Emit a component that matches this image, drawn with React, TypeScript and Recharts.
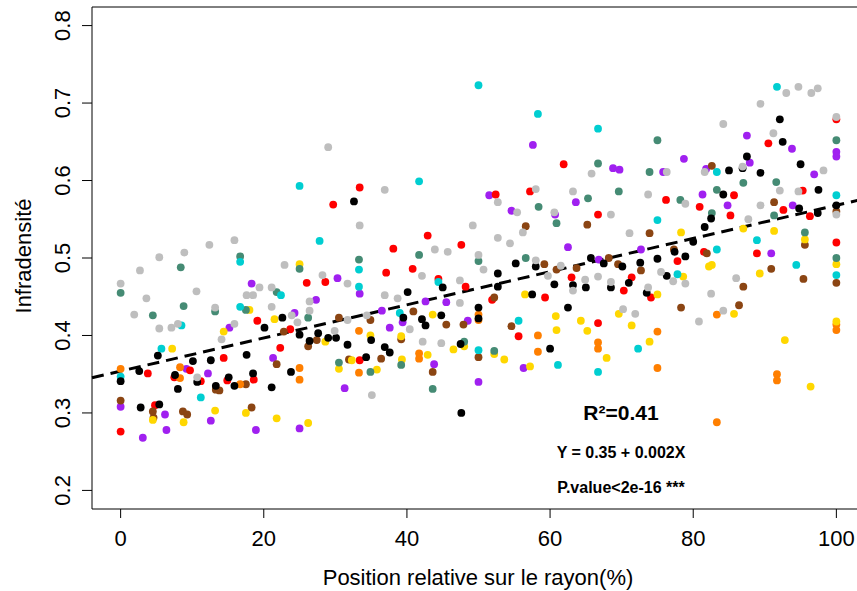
import { ScatterChart, Scatter, XAxis, YAxis, ReferenceLine, ReferenceArea, Label } from 'recharts';

// points per group, [position %, infradensity]
const gray: [number, number][] = [
  [5.4, 0.501], [8.9, 0.507], [12.4, 0.517], [15.9, 0.523], [22.9, 0.491], [29.0, 0.643], [36.9, 0.588], [33.4, 0.542],
  [49.2, 0.542], [43.9, 0.511], [45.7, 0.508], [50.0, 0.504], [65.8, 0.609], [76.3, 0.611], [52.7, 0.572], [58.0, 0.589],
  [63.2, 0.586], [73.7, 0.582], [55.4, 0.559], [60.6, 0.559], [68.5, 0.556], [56.2, 0.533], [71.1, 0.532], [52.7, 0.526],
  [54.4, 0.519], [58.0, 0.497], [61.5, 0.49], [93.0, 0.713], [94.7, 0.721], [96.5, 0.713], [97.4, 0.719], [89.4, 0.699],
  [84.2, 0.673], [100, 0.682], [91.2, 0.661], [86.9, 0.618], [81.6, 0.611], [98.2, 0.613], [92.1, 0.587], [94.7, 0.586],
  [78.9, 0.57], [89.4, 0.568], [100, 0.556], [87.7, 0.55], [2.7, 0.484], [0, 0.467], [3.6, 0.448], [19.4, 0.462],
  [17.6, 0.452], [18.5, 0.452], [21.1, 0.462], [1.9, 0.427], [5.4, 0.409], [7.1, 0.41], [8.0, 0.415], [10.6, 0.457],
  [13.2, 0.436], [21.1, 0.437], [23.9, 0.426], [15.9, 0.415], [14.1, 0.395], [10.7, 0.346], [42.1, 0.477], [28.2, 0.478],
  [31.7, 0.467], [47.4, 0.471], [50.7, 0.485], [26.4, 0.444], [26.4, 0.432], [24.7, 0.417], [36.9, 0.452], [38.7, 0.448],
  [47.4, 0.442], [34.4, 0.426], [31.7, 0.42], [29.9, 0.406], [40.4, 0.408], [42.2, 0.392], [44.8, 0.39], [35.1, 0.323],
  [59.7, 0.477], [64.9, 0.472], [66.7, 0.476], [68.5, 0.469], [75.5, 0.482], [77.2, 0.47], [63.2, 0.458], [73.7, 0.462],
  [70.2, 0.434], [71.9, 0.428], [78.9, 0.467], [86.0, 0.474], [82.5, 0.454], [84.2, 0.432], [80.8, 0.418],
];

const black: [number, number][] = [
  [32.6, 0.573], [65.7, 0.5], [75.0, 0.499], [77.4, 0.508], [55.2, 0.493], [72.6, 0.494], [67.5, 0.493], [92.1, 0.679],
  [92.5, 0.65], [87.5, 0.631], [86.9, 0.616], [85.0, 0.613], [89.4, 0.61], [95.0, 0.621], [97.5, 0.588], [84.2, 0.582],
  [94.8, 0.564], [100, 0.568], [82.5, 0.551], [97.4, 0.558], [81.6, 0.54], [80.0, 0.521], [78.9, 0.502], [22.6, 0.423],
  [20.1, 0.41], [5.2, 0.374], [17.6, 0.375], [12.6, 0.368], [10.1, 0.367], [0, 0.341], [2.6, 0.354], [7.6, 0.349],
  [10.7, 0.34], [15.1, 0.346], [18.5, 0.351], [8.0, 0.331], [13.3, 0.335], [15.9, 0.335], [21.1, 0.333], [2.8, 0.307],
  [5.4, 0.311], [45.0, 0.462], [40.1, 0.456], [39.5, 0.423], [42.1, 0.421], [42.6, 0.413], [44.8, 0.426], [50.0, 0.436],
  [50.0, 0.422], [25.0, 0.401], [26.4, 0.393], [27.6, 0.403], [29.0, 0.397], [30.1, 0.397], [31.7, 0.388], [35.0, 0.394],
  [36.9, 0.385], [37.6, 0.378], [34.3, 0.372], [47.5, 0.389], [23.8, 0.353], [47.6, 0.3], [58.0, 0.489], [70.1, 0.489],
  [76.3, 0.477], [52.7, 0.48], [52.7, 0.463], [71.0, 0.468], [60.6, 0.466], [63.2, 0.465], [65.0, 0.462], [68.5, 0.462],
  [73.5, 0.455], [57.5, 0.453], [62.5, 0.436], [60.0, 0.383],
];

const red: [number, number][] = [
  [33.4, 0.591], [29.7, 0.569], [42.9, 0.529], [38.1, 0.512], [47.6, 0.517], [61.9, 0.621], [52.4, 0.582], [57.2, 0.586],
  [76.2, 0.575], [66.7, 0.556], [100, 0.679], [90.5, 0.648], [95.3, 0.587], [85.7, 0.581], [92.6, 0.562], [80.9, 0.566],
  [85.2, 0.555], [96.3, 0.554], [100, 0.52], [81.5, 0.508], [88.9, 0.506], [77.8, 0.496], [19.1, 0.419], [23.7, 0.408],
  [22.3, 0.384], [14.4, 0.371], [3.8, 0.351], [9.7, 0.355], [7.5, 0.346], [11.2, 0.341], [14.9, 0.342], [18.6, 0.343],
  [4.8, 0.31], [0, 0.276], [37.1, 0.481], [40.8, 0.486], [26.0, 0.468], [28.6, 0.469], [44.4, 0.473], [48.2, 0.463],
  [33.4, 0.368], [63.0, 0.475], [71.4, 0.475], [70.3, 0.458], [74.1, 0.449], [59.3, 0.449], [51.9, 0.446], [66.7, 0.416],
  [55.6, 0.399],
];

const orange: [number, number][] = [
  [0, 0.357], [8.3, 0.359], [8.3, 0.345], [16.7, 0.337], [50.0, 0.427], [50.0, 0.42], [33.3, 0.406], [41.7, 0.377],
  [41.7, 0.37], [33.3, 0.352], [25.0, 0.358], [25.0, 0.343], [75.0, 0.405], [58.3, 0.4], [66.7, 0.391], [66.7, 0.383],
  [58.3, 0.379], [75.0, 0.358], [83.3, 0.427], [100, 0.414], [100, 0.407], [91.7, 0.35], [91.7, 0.342], [83.3, 0.288],
];

const gold: [number, number][] = [
  [25.0, 0.492], [18.0, 0.433], [21.5, 0.421], [14.4, 0.405], [7.2, 0.383], [4.5, 0.291], [8.8, 0.288], [13.2, 0.303],
  [17.5, 0.3], [21.8, 0.293], [43.6, 0.427], [28.6, 0.392], [34.9, 0.4], [39.2, 0.399], [32.3, 0.368], [42.9, 0.375],
  [39.3, 0.369], [46.5, 0.382], [48.0, 0.386], [30.5, 0.357], [35.8, 0.356], [26.2, 0.287], [75.0, 0.453], [56.5, 0.453],
  [69.6, 0.428], [60.8, 0.425], [64.3, 0.419], [71.4, 0.413], [60.9, 0.407], [65.2, 0.406], [73.9, 0.392], [52.2, 0.376],
  [53.6, 0.369], [67.9, 0.371], [57.2, 0.36], [87.0, 0.538], [78.3, 0.533], [91.3, 0.535], [95.6, 0.524], [78.6, 0.476],
  [82.2, 0.489], [82.6, 0.491], [89.3, 0.48], [100, 0.492], [85.7, 0.428], [100, 0.418], [92.8, 0.394], [96.4, 0.334],
];

const purple: [number, number][] = [
  [57.6, 0.646], [68.8, 0.616], [69.7, 0.614], [75.8, 0.611], [51.5, 0.581], [54.6, 0.561], [63.6, 0.572], [60.7, 0.556],
  [62.5, 0.514], [72.7, 0.511], [66.8, 0.498], [87.5, 0.658], [93.8, 0.641], [100, 0.637], [100, 0.631], [78.7, 0.628],
  [87.9, 0.623], [81.8, 0.615], [96.9, 0.608], [81.3, 0.582], [84.8, 0.568], [93.9, 0.568], [90.9, 0.506], [18.3, 0.467],
  [15.2, 0.41], [21.3, 0.371], [9.2, 0.357], [12.2, 0.351], [0, 0.308], [6.2, 0.298], [12.6, 0.29], [3.1, 0.268],
  [6.4, 0.278], [18.9, 0.278], [30.3, 0.474], [33.4, 0.454], [27.3, 0.446], [24.3, 0.429], [42.6, 0.444], [45.5, 0.443],
  [36.5, 0.432], [39.4, 0.417], [37.6, 0.41], [48.5, 0.419], [43.8, 0.363], [31.3, 0.332], [50.0, 0.34], [25.0, 0.28],
  [56.3, 0.358],
];

const cyan: [number, number][] = [
  [50.0, 0.723], [25.0, 0.593], [41.7, 0.599], [27.8, 0.522], [58.3, 0.686], [66.7, 0.667], [75.0, 0.549], [91.7, 0.721],
  [83.3, 0.611], [100, 0.581], [88.9, 0.523], [83.3, 0.511], [16.7, 0.495], [22.4, 0.452], [8.5, 0.413], [16.7, 0.437],
  [5.7, 0.383], [0, 0.347], [11.2, 0.32], [33.3, 0.485], [33.3, 0.463], [44.4, 0.469], [39.0, 0.429], [50.0, 0.381],
  [55.6, 0.419], [72.3, 0.383], [61.1, 0.362], [66.7, 0.353], [77.8, 0.479], [94.4, 0.491], [100, 0.478],
];

const green: [number, number][] = [
  [16.7, 0.502], [41.7, 0.504], [50.0, 0.496], [33.3, 0.498], [75.0, 0.652], [66.7, 0.622], [73.9, 0.611], [65.3, 0.577],
  [69.6, 0.586], [58.4, 0.566], [60.9, 0.545], [56.6, 0.5], [100, 0.652], [87.0, 0.597], [91.6, 0.598], [83.3, 0.588],
  [78.2, 0.575], [82.6, 0.558], [91.3, 0.555], [95.6, 0.533], [100, 0.5], [8.4, 0.488], [0, 0.455], [21.8, 0.456],
  [8.8, 0.438], [4.5, 0.426], [13.2, 0.431], [17.5, 0.433], [25.0, 0.486], [26.2, 0.423], [30.5, 0.365], [34.9, 0.353],
  [39.2, 0.362], [43.6, 0.331], [48.0, 0.392], [52.2, 0.38],
];

const brown: [number, number][] = [
  [56.6, 0.541], [65.2, 0.543], [73.9, 0.532], [68.2, 0.5], [77.3, 0.511], [82.6, 0.619], [91.3, 0.572], [100, 0.56],
  [95.6, 0.517], [81.9, 0.506], [22.8, 0.405], [21.8, 0.363], [13.3, 0.33], [13.8, 0.329], [17.5, 0.337], [0, 0.316],
  [4.5, 0.302], [4.6, 0.294], [8.7, 0.302], [9.3, 0.298], [18.3, 0.307], [30.5, 0.423], [34.9, 0.42], [40.9, 0.431],
  [45.5, 0.414], [47.9, 0.414], [26.2, 0.386], [27.4, 0.394], [39.2, 0.395], [36.4, 0.37], [31.9, 0.369], [50.0, 0.372],
  [43.6, 0.353], [59.2, 0.492], [60.9, 0.485], [63.7, 0.487], [69.5, 0.492], [72.7, 0.484], [52.2, 0.449], [54.6, 0.412],
  [90.9, 0.486], [95.4, 0.473], [100, 0.468], [87.0, 0.463], [86.4, 0.439], [78.3, 0.436],
];

const xTicks = [0, 20, 40, 60, 80, 100];
const yTicks = [0.2, 0.3, 0.4, 0.5, 0.6, 0.7, 0.8];

// fitted line as drawn
const intercept = 0.354;
const slope = 0.00214;

const groups = [
  { name: 'purple', color: '#A020F0', pts: purple },
  { name: 'red', color: '#FF0000', pts: red },
  { name: 'brown', color: '#8B4513', pts: brown },
  { name: 'orange', color: '#FF7F00', pts: orange },
  { name: 'gold', color: '#FFD700', pts: gold },
  { name: 'green', color: '#458B74', pts: green },
  { name: 'cyan', color: '#00CED1', pts: cyan },
  { name: 'black', color: '#000000', pts: black },
  { name: 'gray', color: '#BEBEBE', pts: gray },
];

const font = '"Liberation Sans", Arial, Helvetica, sans-serif';

const XTick = (props: any) => (
  <text x={props.x} y={546} textAnchor="middle" fontSize={22} fontFamily={font} fill="#000">
    {props.payload.value}
  </text>
);

const YTick = (props: any) => (
  <text
    x={70}
    y={props.y}
    transform={`rotate(-90, 70, ${props.y})`}
    textAnchor="middle"
    fontSize={22}
    fontFamily={font}
    fill="#000"
  >
    {Number(props.payload.value).toFixed(1)}
  </text>
);

export default function App() {
  return (
    <div style={{ position: 'absolute', left: 0, top: 0, width: 857, height: 591, overflow: 'hidden', background: '#fff' }}>
      <ScatterChart width={880} height={591} margin={{ top: 7, right: 15, bottom: 0, left: 0 }}>
        <XAxis
          type="number"
          dataKey="x"
          domain={[-4, 104]}
          ticks={xTicks}
          axisLine={false}
          tickLine={{ stroke: '#000' }}
          tickSize={9}
          height={82}
          tick={XTick}
          allowDataOverflow
        >
          <Label
            content={() => (
              <text x={478} y={585} textAnchor="middle" fontSize={22} fontFamily={font} fill="#000">
                Position relative sur le rayon(%)
              </text>
            )}
          />
        </XAxis>
        <YAxis
          type="number"
          dataKey="y"
          domain={[0.176, 0.824]}
          ticks={yTicks}
          axisLine={false}
          tickLine={{ stroke: '#000' }}
          tickSize={10}
          width={92}
          tick={YTick}
          allowDataOverflow
        >
          <Label
            content={() => (
              <text x={31} y={256} transform="rotate(-90, 31, 256)" textAnchor="middle" fontSize={22} fontFamily={font} fill="#000">
                Infradensité
              </text>
            )}
          />
        </YAxis>
        <ReferenceArea x1={-4} x2={104} y1={0.176} y2={0.824} fill="none" fillOpacity={0} stroke="#000" strokeWidth={1} ifOverflow="visible" />
        {groups.map((g) => (
          <Scatter
            key={g.name}
            name={g.name}
            data={g.pts.map(([x, y]) => ({ x, y }))}
            isAnimationActive={false}
            shape={(p: any) => <circle cx={p.cx} cy={p.cy} r={3.9} fill={g.color} />}
          />
        ))}
        <ReferenceLine
          segment={[
            { x: -4, y: intercept + slope * -4 },
            { x: 104, y: intercept + slope * 104 },
          ]}
          stroke="#000"
          strokeWidth={3}
          strokeDasharray="12 7"
          ifOverflow="visible"
        />
      </ScatterChart>
      <div style={{ position: 'absolute', left: 521, top: 401, width: 200, textAlign: 'center', fontFamily: font, fontWeight: 'bold', fontSize: 21, lineHeight: '24px', color: '#000' }}>
        R²=0.41
      </div>
      <div style={{ position: 'absolute', left: 521, top: 443, width: 200, textAlign: 'center', fontFamily: font, fontWeight: 'bold', fontSize: 16, lineHeight: '20px', color: '#000' }}>
        Y = 0.35 + 0.002X
      </div>
      <div style={{ position: 'absolute', left: 521, top: 478, width: 200, textAlign: 'center', fontFamily: font, fontWeight: 'bold', fontSize: 16, lineHeight: '20px', color: '#000' }}>
        P.value&lt;2e-16 ***
      </div>
    </div>
  );
}
